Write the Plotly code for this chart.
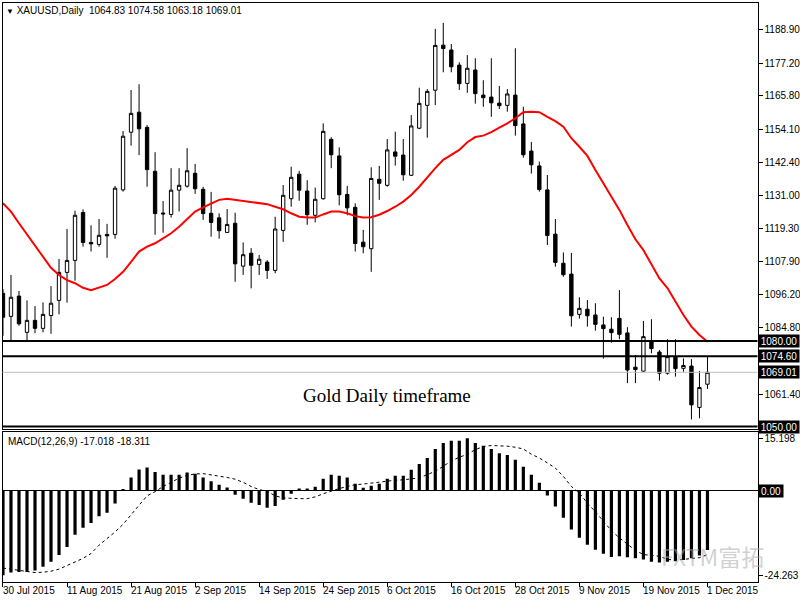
import pandas as pd
import plotly.graph_objects as go

# daily bars, 30 Jul 2015 .. 1 Dec 2015 (weekdays)
dates = [d.strftime("%Y-%m-%d") for d in pd.bdate_range("2015-07-30", "2015-12-01")]

open_ = [1096.7, 1088.6, 1095.7, 1083.0, 1087.2, 1084.4, 1088.9, 1094.2, 1104.0, 1108.2,
         1125.0, 1114.5, 1113.8, 1117.3, 1117.3, 1132.9, 1153.1, 1160.1, 1154.8, 1139.4,
         1124.8, 1124.3, 1132.8, 1134.2, 1138.7, 1133.1, 1124.7, 1123.1, 1118.0, 1121.2,
         1106.2, 1110.7, 1106.8, 1107.6, 1104.7, 1118.7, 1129.8, 1138.4, 1132.5, 1124.0,
         1129.8, 1150.6, 1144.8, 1131.3, 1126.8, 1114.6, 1112.3, 1136.6, 1134.5, 1146.2,
         1145.1, 1138.0, 1154.5, 1162.5, 1167.8, 1183.6, 1181.9, 1176.6, 1170.2, 1174.9,
         1166.1, 1165.4, 1163.3, 1162.5, 1166.1, 1156.0, 1146.5, 1141.3, 1132.9, 1117.4,
         1107.2, 1103.4, 1089.3, 1091.1, 1089.1, 1085.6, 1084.1, 1087.9, 1082.8, 1070.8,
         1069.4, 1079.9, 1076.1, 1068.7, 1074.3, 1070.4, 1071.2, 1056.7, 1064.83]
high = [1098.2, 1103.1, 1097.5, 1094.2, 1092.2, 1093.5, 1099.2, 1108.7, 1119.2, 1125.6,
        1126.1, 1120.5, 1122.7, 1121.0, 1134.3, 1153.5, 1167.9, 1169.9, 1155.6, 1146.1,
        1129.0, 1140.5, 1140.5, 1147.5, 1142.0, 1134.0, 1132.2, 1124.7, 1126.2, 1124.9,
        1114.5, 1112.5, 1110.1, 1108.3, 1123.5, 1134.6, 1141.0, 1139.6, 1136.3, 1133.7,
        1156.2, 1151.3, 1147.8, 1134.3, 1128.2, 1118.9, 1140.8, 1141.3, 1150.7, 1153.3,
        1150.7, 1159.1, 1168.7, 1168.2, 1189.3, 1191.4, 1184.0, 1177.6, 1180.1, 1179.0,
        1171.3, 1179.0, 1169.3, 1168.2, 1182.5, 1162.0, 1149.7, 1142.8, 1138.1, 1122.7,
        1111.0, 1110.8, 1095.3, 1094.3, 1093.2, 1088.5, 1088.3, 1097.8, 1084.8, 1075.1,
        1087.0, 1087.6, 1076.8, 1080.6, 1080.6, 1073.9, 1073.6, 1069.5, 1074.58]
low = [1081.8, 1080.3, 1085.3, 1080.3, 1082.7, 1083.0, 1082.5, 1089.3, 1093.4, 1101.1,
       1113.0, 1111.3, 1113.0, 1109.1, 1115.8, 1132.3, 1148.4, 1145.1, 1134.0, 1117.2,
       1117.9, 1123.2, 1125.3, 1133.7, 1131.5, 1122.4, 1116.5, 1115.8, 1117.8, 1100.7,
       1103.1, 1098.4, 1103.1, 1101.7, 1103.7, 1114.7, 1127.0, 1129.1, 1120.7, 1121.5,
       1129.5, 1140.5, 1127.5, 1124.0, 1111.3, 1110.7, 1104.2, 1129.4, 1134.0, 1141.4,
       1136.1, 1137.8, 1154.2, 1151.2, 1162.6, 1174.1, 1174.1, 1167.9, 1166.9, 1163.1,
       1162.0, 1158.5, 1161.2, 1160.3, 1151.9, 1144.2, 1138.6, 1132.3, 1113.6, 1106.0,
       1102.5, 1085.0, 1087.8, 1085.0, 1083.6, 1073.8, 1079.4, 1080.6, 1065.2, 1065.2,
       1069.1, 1075.7, 1066.1, 1068.2, 1067.5, 1069.2, 1052.5, 1052.9, 1063.18]
close = [1088.3, 1095.3, 1086.0, 1087.2, 1084.4, 1089.3, 1093.2, 1104.0, 1108.2, 1124.0,
         1114.5, 1114.0, 1117.0, 1116.8, 1133.5, 1151.7, 1159.7, 1154.3, 1140.0, 1124.6,
         1124.5, 1132.8, 1134.5, 1139.6, 1133.3, 1124.6, 1121.5, 1118.6, 1120.8, 1107.0,
         1110.2, 1106.5, 1108.6, 1104.7, 1119.2, 1131.0, 1137.3, 1132.8, 1124.2, 1129.6,
         1153.4, 1145.2, 1131.2, 1126.6, 1114.1, 1113.0, 1136.9, 1135.2, 1146.9, 1144.7,
         1138.2, 1155.3, 1163.2, 1167.4, 1183.5, 1182.4, 1176.0, 1170.1, 1175.5, 1166.6,
         1165.2, 1163.4, 1162.4, 1166.5, 1155.4, 1145.2, 1141.7, 1133.0, 1116.9, 1107.5,
         1103.2, 1088.8, 1091.4, 1088.8, 1085.8, 1084.3, 1082.9, 1082.3, 1069.8, 1070.0,
         1081.5, 1077.3, 1068.7, 1074.5, 1070.3, 1071.4, 1057.6, 1063.7, 1069.01]
ma = [1128.2, 1125.3, 1121.2, 1117.3, 1113.6, 1109.5, 1105.6, 1103.1, 1101.3, 1100.2,
      1098.6, 1097.8, 1098.8, 1099.6, 1101.7, 1104.2, 1107.7, 1111.3, 1113.0, 1114.2,
      1115.9, 1117.7, 1120.0, 1122.8, 1125.3, 1126.8, 1128.2, 1129.4, 1129.8, 1129.4,
      1129.0, 1128.8, 1128.4, 1127.9, 1127.0, 1126.1, 1124.7, 1123.5, 1123.2, 1123.2,
      1124.3, 1125.3, 1125.3, 1124.7, 1123.7, 1123.2, 1123.3, 1124.2, 1125.5, 1127.0,
      1128.8, 1131.1, 1134.0, 1137.3, 1140.5, 1143.4, 1145.1, 1146.9, 1149.6, 1151.4,
      1151.9, 1153.1, 1154.7, 1156.2, 1158.0, 1160.1, 1160.3, 1160.1, 1158.5, 1157.0,
      1155.0, 1151.0, 1148.0, 1144.8, 1139.9, 1135.2, 1130.5, 1125.9, 1120.6, 1115.6,
      1111.8, 1106.6, 1101.9, 1098.5, 1093.7, 1089.1, 1085.0, 1082.1, 1079.7]

macd = [-24.26, -23.5, -23.3, -23.3, -22.9, -21.8, -20.4, -18.4, -16.1, -12.6,
        -10.6, -9.2, -7.3, -6.3, -3.6, 0.5, 3.9, 6.2, 6.8, 5.5,
        4.7, 4.7, 4.7, 5.3, 5.0, 3.9, 2.8, 1.8, 1.0, -1.1,
        -2.2, -3.4, -4.0, -4.8, -4.3, -2.5, -0.8, 0.7, 0.7, 1.2,
        3.5, 4.7, 4.4, 3.9, 2.1, 0.9, 1.5, 2.1, 3.5, 4.4,
        4.4, 6.1, 7.8, 9.5, 12.1, 13.8, 14.5, 14.5, 15.2, 13.8,
        13.0, 12.1, 10.9, 10.4, 9.0, 7.0, 4.7, 2.4, -1.3, -4.5,
        -7.7, -11.1, -13.5, -15.5, -16.9, -18.1, -19.0, -18.8, -19.1, -19.4,
        -19.7, -20.4, -20.6, -20.4, -20.2, -19.9, -19.4, -18.6, -17.0]
signal = [-22.2, -22.5, -22.9, -23.3, -23.5, -23.4, -23.1, -22.5, -21.5, -20.4,
          -19.4, -18.0, -15.6, -13.7, -11.8, -9.6, -7.0, -4.1, -1.4, -0.2,
          1.3, 2.5, 3.7, 4.5, 4.9, 5.0, 4.7, 4.2, 3.9, 3.4,
          2.5, 1.3, 0.4, -0.1, -1.4, -2.0, -2.2, -2.2, -2.2, -1.7,
          -0.8, 0.0, 0.7, 1.3, 1.8, 2.0, 2.3, 2.6, 2.9, 3.1,
          3.2, 3.5, 3.8, 4.7, 5.7, 7.1, 8.7, 9.7, 10.6, 11.9,
          12.8, 13.1, 13.1, 12.9, 12.6, 12.1, 10.6, 9.5, 8.1, 6.6,
          4.2, 1.3, -0.6, -3.5, -6.0, -8.7, -11.4, -13.5, -15.4, -17.1,
          -18.3, -18.5, -18.8, -19.7, -19.9, -19.7, -19.5, -19.2, -18.311]

price_ticks = [1188.90, 1177.20, 1165.80, 1154.10, 1142.40, 1131.00, 1119.30,
               1107.90, 1096.20, 1084.80, 1061.40]
levels = [1080.00, 1074.60, 1050.00]
bid = 1069.01
macd_ticks = [15.198, -24.263]
date_labels = ["30 Jul 2015", "11 Aug 2015", "21 Aug 2015", "2 Sep 2015", "14 Sep 2015",
               "24 Sep 2015", "6 Oct 2015", "16 Oct 2015", "28 Oct 2015", "9 Nov 2015",
               "19 Nov 2015", "1 Dec 2015"]
label_dates = [pd.to_datetime(s).strftime("%Y-%m-%d") for s in date_labels]

FONT = "Liberation Sans"
X_DOM = [2.5 / 800, 757.5 / 800]

fig = go.Figure()

fig.add_trace(go.Candlestick(
    x=dates, open=open_, high=high, low=low, close=close,
    increasing=dict(line=dict(color="black", width=1), fillcolor="white"),
    decreasing=dict(line=dict(color="black", width=1), fillcolor="black"),
    whiskerwidth=0, showlegend=False, xaxis="x", yaxis="y",
))
fig.add_trace(go.Scatter(
    x=dates, y=ma, mode="lines", line=dict(color="#ff0000", width=2),
    showlegend=False, xaxis="x", yaxis="y",
))
fig.add_trace(go.Bar(
    x=dates, y=macd, marker_color="black", marker_line_width=0, width=0.4,
    showlegend=False, xaxis="x2", yaxis="y2",
))
fig.add_trace(go.Scatter(
    x=dates, y=signal, mode="lines", line=dict(color="black", width=1, dash="dot"),
    showlegend=False, xaxis="x2", yaxis="y2",
))

# horizontal levels
shapes = []
for lv in levels:
    shapes.append(dict(type="line", xref="x domain", yref="y", x0=0, x1=1, y0=lv, y1=lv,
                       line=dict(color="black", width=2)))
shapes.append(dict(type="line", xref="x domain", yref="y", x0=0, x1=1, y0=bid, y1=bid,
                   line=dict(color="#c0c0c0", width=1)))

annotations = []
for lv in levels + [bid]:
    annotations.append(dict(x=X_DOM[1], xref="paper", y=lv, yref="y", xanchor="left",
                            yanchor="middle", text=f"{lv:.2f}", showarrow=False,
                            bgcolor="black", font=dict(color="white", size=10, family=FONT),
                            width=40, height=12, align="center", borderpad=0))
annotations.append(dict(x=X_DOM[1], xref="paper", y=0, yref="y2", xanchor="left",
                        yanchor="middle", text="0.00", showarrow=False, bgcolor="black",
                        font=dict(color="white", size=10, family=FONT), width=24,
                        height=12, borderpad=0))
for d, s in zip(label_dates, date_labels):
    annotations.append(dict(x=d, xref="x2", y=10 / 600, yref="paper", xanchor="left",
                            yanchor="middle", text=s, showarrow=False, xshift=-2,
                            font=dict(color="black", size=10, family=FONT)))

annotations += [
    dict(x=4 / 800, y=1 - 11 / 600, xref="paper", yref="paper", xanchor="left",
         yanchor="middle", showarrow=False,
         text="<span style='font-size:8px'>▼</span> XAUUSD,Daily  1064.83 1074.58 1063.18 1069.01",
         font=dict(color="black", size=10, family=FONT)),
    dict(x=6 / 800, y=1 - 441 / 600, xref="paper", yref="paper", xanchor="left",
         yanchor="middle", showarrow=False, text="MACD(12,26,9) -17.018 -18.311",
         font=dict(color="black", size=10, family=FONT)),
    dict(x=387 / 800, y=1 - 395 / 600, xref="paper", yref="paper", xanchor="center",
         yanchor="middle", showarrow=False, text="Gold Daily timeframe",
         font=dict(color="black", size=19, family="Liberation Serif")),
    dict(x=712 / 800, y=1 - 556 / 600, xref="paper", yref="paper", xanchor="center",
         yanchor="middle", showarrow=False, text="FXTM富拓",
         font=dict(color="rgba(170,170,170,0.55)", size=23, family="Noto Sans CJK SC")),
]

axis_common = dict(showline=True, mirror=True, linecolor="black", linewidth=1,
                   showgrid=False, zeroline=False)

fig.update_layout(
    width=800, height=600,
    margin=dict(l=0, r=0, t=0, b=0),
    paper_bgcolor="white", plot_bgcolor="white",
    font=dict(family=FONT, size=10, color="black"),
    boxgap=0.4, bargap=0.5,
    shapes=shapes, annotations=annotations,
    xaxis=dict(domain=X_DOM, anchor="y", type="category", range=[-0.06, 94.25],
               showticklabels=False, ticks="", rangeslider=dict(visible=False),
               **axis_common),
    yaxis=dict(domain=[1 - 429 / 600, 1 - 2.5 / 600], anchor="x", side="right",
               range=[1049.15, 1198.53], tickvals=price_ticks,
               ticktext=[f"{v:.2f}" for v in price_ticks], ticks="outside", ticklen=4,
               tickcolor="black", tickfont=dict(size=10, color="black"), **axis_common),
    xaxis2=dict(domain=X_DOM, anchor="y2", type="category", range=[-0.06, 94.25],
                tickvals=label_dates, ticktext=["" for _ in label_dates], ticks="outside",
                ticklen=4, tickcolor="black", **axis_common),
    yaxis2=dict(domain=[1 - 582 / 600, 1 - 432 / 600], anchor="x2", side="right",
                range=[-26.21, 16.99], tickvals=macd_ticks,
                ticktext=[f"{v:.3f}" for v in macd_ticks], ticks="outside", ticklen=4,
                tickcolor="black", tickfont=dict(size=10, color="black"),
                showline=True, mirror=True, linecolor="black", linewidth=1,
                showgrid=False, zeroline=True, zerolinecolor="black", zerolinewidth=1),
)

# the page's default 8px body margin would push the 800x600 figure off the window
fig.write_html("out.html", config={"displayModeBar": False},
               post_script="document.body.style.margin = '0';")
